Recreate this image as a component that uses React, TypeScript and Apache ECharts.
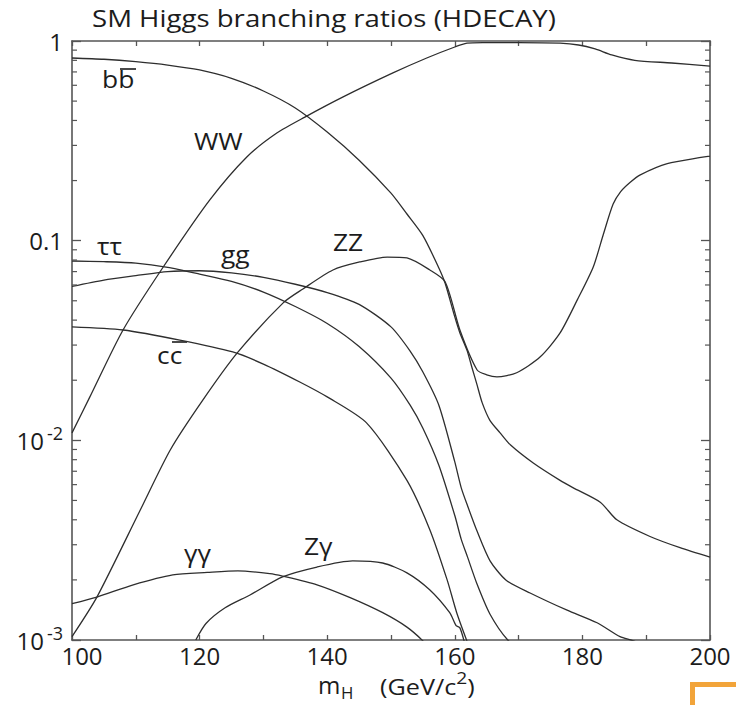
import React, { useEffect, useRef } from 'react';
import * as echarts from 'echarts';

// Higgs mass range (GeV/c^2) and branching-ratio range of the plot
const massRange = [100, 200];
const brRange = [0.001, 1];

// Branching ratios, [m_H, BR]
const bb = [[100, 0.822], [105, 0.81], [110, 0.788], [115, 0.758], [120, 0.716], [125, 0.65], [130, 0.562], [135, 0.462], [140, 0.35], [145, 0.253], [150, 0.173], [152.5, 0.136], [155, 0.106], [157.5, 0.073], [158.5, 0.061], [160, 0.0415], [160.8, 0.0345], [161.9, 0.0283], [162.7, 0.0231], [163.5, 0.0189], [164.3, 0.0154], [165.5, 0.0126], [167.1, 0.0109], [168.7, 0.0095], [172.3, 0.0077], [176.5, 0.0063], [178.5, 0.0058], [182.8, 0.0049], [185.4, 0.004], [190.6, 0.0033], [195.3, 0.0029], [200, 0.0026]];
const ww = [[100, 0.0109], [102.8, 0.0165], [108, 0.0357], [114.3, 0.0738], [121.6, 0.16], [127.4, 0.2626], [132.1, 0.346], [136.5, 0.416], [142.5, 0.525], [150.3, 0.692], [155.6, 0.822], [160, 0.933], [161.9, 0.975], [164.4, 0.982], [170, 0.982], [176.5, 0.975], [179.4, 0.955], [182, 0.912], [184.6, 0.851], [188.2, 0.8], [194, 0.776], [200, 0.749]];
const zz = [[100, 0.00104], [103.9, 0.00164], [110.7, 0.00448], [115.4, 0.00895], [120.5, 0.0159], [125.9, 0.0274], [133.1, 0.0488], [136.2, 0.0573], [140.9, 0.0713], [145.1, 0.0782], [149.4, 0.0828], [152.5, 0.0819], [156.1, 0.0713], [158.5, 0.0621], [160.8, 0.0357], [163.5, 0.0225], [165, 0.0213], [166.6, 0.0208], [169.7, 0.0218], [173.4, 0.0262], [176.5, 0.0345], [179.2, 0.0505], [181.7, 0.0738], [183.3, 0.108], [184.8, 0.152], [186, 0.176], [187.5, 0.196], [189, 0.213], [193.3, 0.243], [200, 0.265]];
const tautau = [[100, 0.0791], [105, 0.0785], [110, 0.0772], [115, 0.0735], [120, 0.068], [125, 0.0625], [130, 0.0553], [135, 0.0468], [140, 0.0385], [145, 0.0295], [150, 0.0205], [153, 0.015], [155, 0.0115], [157.5, 0.0075], [160, 0.0042], [161, 0.0032], [162, 0.0026], [163.5, 0.0019], [165.5, 0.00135], [168.3, 0.001], [172, 0.0008]];
const gluglu = [[100, 0.059], [105, 0.0635], [110, 0.0668], [115, 0.07], [120, 0.0707], [125, 0.069], [130, 0.0655], [135, 0.0605], [140, 0.055], [145, 0.048], [150, 0.037], [153, 0.028], [155, 0.022], [157.5, 0.015], [160, 0.0078], [161, 0.0058], [162, 0.0047], [163.5, 0.0035], [165.5, 0.0025], [168, 0.002], [171.8, 0.00172], [177.6, 0.00141], [182.3, 0.00122], [185.9, 0.00104], [188, 0.00099], [195, 0.0008], [200, 0.0007]];
const cc = [[100, 0.037], [108, 0.0357], [116.9, 0.0318], [125.2, 0.0277], [130, 0.0241], [135.7, 0.0196], [140, 0.0165], [146.2, 0.0122], [152.5, 0.0063], [156.1, 0.00356], [158.8, 0.002], [160.3, 0.00137], [162.1, 0.00095]];
const gamgam = [[100, 0.00152], [103.9, 0.00164], [109.6, 0.00189], [115.8, 0.00212], [121.2, 0.00218], [126, 0.00222], [131, 0.00215], [133, 0.00209], [138.4, 0.00189], [143.6, 0.00163], [148.7, 0.00137], [152.5, 0.00116], [155, 0.00099], [156, 0.0009]];
const zgam = [[119.4, 0.001], [121, 0.00121], [124, 0.00145], [127.9, 0.00168], [133, 0.00207], [138.4, 0.00232], [144, 0.00249], [148.7, 0.00243], [152.5, 0.00217], [156.1, 0.00178], [159.2, 0.00137], [160.2, 0.00118], [160.8, 0.00115], [161.6, 0.00095]];

const channels = [
  { name: 'bb', data: bb },
  { name: 'WW', data: ww },
  { name: 'ZZ', data: zz },
  { name: 'tautau', data: tautau },
  { name: 'gg', data: gluglu },
  { name: 'cc', data: cc },
  { name: 'gammagamma', data: gamgam },
  { name: 'Zgamma', data: zgam },
];

// Tick labels
const xTickLabels = ['100', '120', '140', '160', '180', '200'];
const yTickLabels: Record<string, string> = {
  '0': '1',
  '-1': '0.1',
  '-2': '10{sup|-2}',
  '-3': '10{sup|-3}',
};
const minorMantissas = [2, 3, 4, 5, 6, 7, 8, 9];
const decades = [0.001, 0.01, 0.1];

const titleText = 'SM Higgs branching ratios (HDECAY)';

const FONT = '"Open Sans", "Noto Sans", "DejaVu Sans", sans-serif';
const INK = '#1c1c1c';
const CURVE = '#2e2e2e';
const AXIS = '#555';
const ORANGE = '#F2A43A';

export default function App() {
  const ref = useRef<HTMLDivElement>(null);

  useEffect(() => {
    const el = ref.current;
    if (!el) return;
    const chart = echarts.init(el, undefined, { renderer: 'svg' });

    const minorTicks: number[][] = [];
    decades.forEach((d) => minorMantissas.forEach((m) => minorTicks.push([massRange[0], m * d])));

    const axisLine = { show: true, lineStyle: { color: AXIS, width: 1.6 } };

    const labelText = (text: string, x: number, y: number, size = 24, sx = 1.1) => ({
      type: 'text',
      x,
      y,
      scaleX: sx,
      silent: true,
      style: { text, fontSize: size, fontFamily: FONT, fill: INK, verticalAlign: 'middle' },
    });
    const bar = (x1: number, x2: number, y: number) => ({
      type: 'line',
      silent: true,
      shape: { x1, y1: y, x2, y2: y },
      style: { stroke: INK, lineWidth: 1.6 },
    });

    const option: any = {
      animation: false,
      backgroundColor: '#fff',
      grid: { left: 72, right: 26, top: 41, bottom: 65 },
      xAxis: [
        {
          type: 'value',
          position: 'bottom',
          min: massRange[0],
          max: massRange[1],
          interval: 10,
          axisLine,
          axisTick: { show: true, inside: true, length: 5, lineStyle: { color: AXIS, width: 1.3 } },
          splitLine: { show: false },
          axisLabel: {
            margin: 3,
            fontSize: 24,
            fontFamily: FONT,
            color: INK,
            formatter: (v: number) => {
              const s = String(Math.round(v));
              if (!xTickLabels.includes(s)) return '';
              return v === massRange[0] ? `{first|${s}}` : s;
            },
            rich: {
              first: { fontSize: 24, fontFamily: FONT, color: INK, padding: [0, 0, 0, 20] },
            },
          },
        },
        {
          type: 'value',
          position: 'top',
          min: massRange[0],
          max: massRange[1],
          interval: 10,
          axisLine,
          axisTick: { show: true, inside: true, length: 5, lineStyle: { color: AXIS, width: 1.3 } },
          axisLabel: { show: false },
          splitLine: { show: false },
        },
      ],
      yAxis: [
        {
          type: 'log',
          logBase: 10,
          position: 'left',
          min: brRange[0],
          max: brRange[1],
          axisLine,
          axisTick: { show: true, inside: true, length: 9, lineStyle: { color: AXIS, width: 1.3 } },
          splitLine: { show: false },
          axisLabel: {
            margin: 9,
            fontSize: 24,
            lineHeight: 32,
            fontFamily: FONT,
            color: INK,
            formatter: (v: number) => yTickLabels[String(Math.round(Math.log10(v)))] ?? '',
            rich: {
              sup: { fontSize: 18, fontFamily: FONT, color: INK, verticalAlign: 'top', padding: [0, 0, 0, 3] },
            },
          },
        },
        {
          type: 'log',
          logBase: 10,
          position: 'right',
          min: brRange[0],
          max: brRange[1],
          axisLine,
          axisTick: { show: true, inside: true, length: 9, lineStyle: { color: AXIS, width: 1.3 } },
          axisLabel: { show: false },
          splitLine: { show: false },
        },
      ],
      series: [
        ...channels.map((c) => ({
          type: 'line',
          name: c.name,
          data: c.data,
          xAxisIndex: 0,
          yAxisIndex: 0,
          symbol: 'none',
          showSymbol: false,
          smooth: 0.25,
          silent: true,
          lineStyle: { color: CURVE, width: 1.3 },
          z: 2,
        })),
        {
          // logarithmic minor ticks on both vertical axes
          type: 'custom',
          coordinateSystem: 'cartesian2d',
          xAxisIndex: 0,
          yAxisIndex: 0,
          silent: true,
          data: minorTicks,
          z: 4,
          renderItem: (_params: any, api: any) => {
            const v = api.value(1);
            const l = api.coord([massRange[0], v]);
            const r = api.coord([massRange[1], v]);
            const st = { stroke: AXIS, lineWidth: 1.2 };
            return {
              type: 'group',
              children: [
                { type: 'line', shape: { x1: l[0], y1: l[1], x2: l[0] + 5, y2: l[1] }, style: st },
                { type: 'line', shape: { x1: r[0] - 5, y1: r[1], x2: r[0], y2: r[1] }, style: st },
              ],
            };
          },
        },
      ],
      graphic: [
        labelText(titleText, 92, 18, 24, 1.15),
        labelText('bb', 102, 78),
        bar(120, 136, 69),
        labelText('WW', 194, 140),
        labelText('ττ', 97, 245),
        labelText('gg', 221, 253),
        labelText('ZZ', 333, 241),
        labelText('cc', 157, 354),
        bar(172, 187, 342),
        labelText('γγ', 184, 552),
        labelText('Zγ', 304, 545),
        // axis title: m_H (GeV/c^2)
        labelText('m', 318, 685, 23, 1.05),
        labelText('H', 341, 693, 16, 1.05),
        {
          type: 'text',
          x: 380,
          y: 670,
          scaleX: 1.2,
          silent: true,
          style: {
            text: '{u|(GeV/c}{s|2}{u|)}',
            rich: {
              u: { fontSize: 21, fontFamily: FONT, fill: INK, color: INK, lineHeight: 34 },
              s: { fontSize: 16, fontFamily: FONT, fill: INK, color: INK, verticalAlign: 'top' },
            },
          },
        },
        { type: 'rect', silent: true, shape: { x: 690, y: 682, width: 46, height: 5 }, style: { fill: ORANGE } },
        { type: 'rect', silent: true, shape: { x: 690, y: 682, width: 5, height: 23 }, style: { fill: ORANGE } },
      ],
    };

    chart.setOption(option);
    return () => chart.dispose();
  }, []);

  return (
    <div
      ref={ref}
      style={{ position: 'fixed', left: 0, top: 0, width: 736, height: 705, background: '#fff' }}
    />
  );
}
